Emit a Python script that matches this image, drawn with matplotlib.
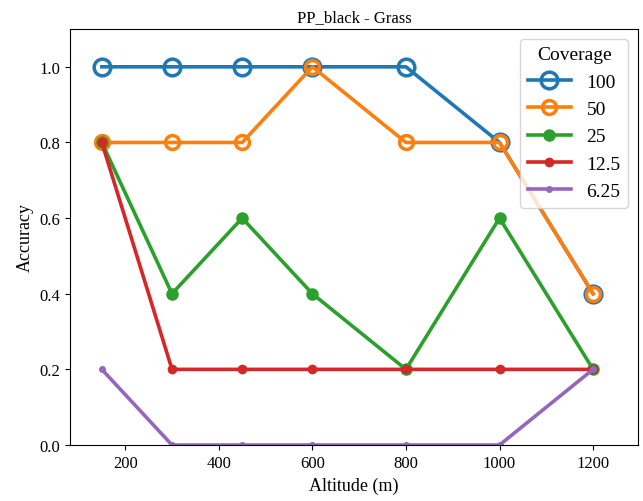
import matplotlib
matplotlib.use("Agg")
import matplotlib.pyplot as plt

plt.rcParams["font.family"] = ["Liberation Serif", "DejaVu Serif"]
plt.rcParams["font.size"] = 12

altitudes = [150, 300, 450, 600, 800, 1000, 1200]
coverages = ["100", "50", "25", "12.5", "6.25"]
acc_100 = [1.0, 1.0, 1.0, 1.0, 1.0, 0.8, 0.4]
acc_50 = [0.8, 0.8, 0.8, 1.0, 0.8, 0.8, 0.4]
acc_25 = [0.8, 0.4, 0.6, 0.4, 0.2, 0.6, 0.2]
acc_12 = [0.8, 0.2, 0.2, 0.2, 0.2, 0.2, 0.2]
acc_6 = [0.2, 0.0, 0.0, 0.0, 0.0, 0.0, 0.2]

series = [acc_100, acc_50, acc_25, acc_12, acc_6]
colors = ["#1f77b4", "#ff7f0e", "#2ca02c", "#d62728", "#9467bd"]
# marker style per coverage: (size, hollow)
styles = [(12, True), (10, True), (8, False), (6, False), (4, False)]

fig = plt.figure(figsize=(6.43, 5.02), dpi=100)
ax = fig.add_axes([70 / 643, 56 / 502, 568 / 643, 416 / 502])

for label, vals, c, (ms, hollow) in zip(coverages, series, colors, styles):
    ax.plot(altitudes, vals, color=c, lw=2.6, marker="o", markersize=ms,
            markerfacecolor="none" if hollow else c, markeredgecolor=c,
            markeredgewidth=2.5 if hollow else 1, label=label)

ax.set_xlim(82, 1296)
ax.set_ylim(0, 1.1)
ax.set_xticks([200, 400, 600, 800, 1000, 1200])
ax.set_yticks([0.0, 0.2, 0.4, 0.6, 0.8, 1.0])
ax.set_xlabel("Altitude (m)", fontsize=13)
ax.set_ylabel("Accuracy", fontsize=13)
ax.set_title("PP_black - Grass", fontsize=12)
ax.legend(title="Coverage", loc="upper right", fontsize=14, title_fontsize=14,
          handlelength=2.2)

fig.savefig("out.png", dpi=100)
